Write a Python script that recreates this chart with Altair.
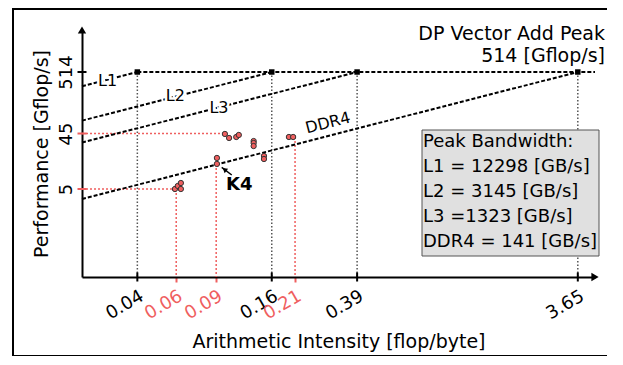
import altair as alt
import pandas as pd

# ---------------- data ----------------
bw_names = ["L1", "L2", "L3", "DDR4"]
bw_values = [12298, 3145, 1323, 141]      # GB/s
peak_gflops = 514

x_min, x_max = 0.02384, 4.34
y_min, y_max = 0.1533, 2713

measured_ai = [0.0612, 0.063, 0.065, 0.065, 0.0937, 0.0937, 0.1016, 0.106, 0.114, 0.117,
               0.136, 0.136, 0.136, 0.151, 0.151, 0.1945, 0.203]
measured_perf = [5.0, 5.64, 6.34, 5.0, 17.1, 13.5, 44.2, 37.7, 39.2, 42.5,
                 33.4, 30.9, 27.4, 18.5, 16.4, 39.2, 39.2]

red_x_ticks = [0.062, 0.093, 0.207]
y_ticks = [514, 45, 5]

# red guide lines: (x start, x end, y start, y end)
guide_x1 = [x_min, x_min, 0.062, 0.093, 0.207]
guide_x2 = [0.0995, 0.062, 0.062, 0.093, 0.207]
guide_y1 = [45, 5, 5, 13.5, 39.2]
guide_y2 = [45, 5, y_min, y_min, y_min]

label_ai = [0.0309, 0.0615, 0.0957, 0.289]
label_perf = [367, 195, 123.6, 68.2]
label_angle = [0, 0, 0, 345.6]

k4_text_ai, k4_text_perf = 0.1028, 5.97
k4_arrow_ai = [0.1089, 0.0984]
k4_arrow_perf = [8.71, 11.8]
k4_head_ai, k4_head_perf = 0.1012, 10.8

box_lines = ["Peak Bandwidth:", "L1 = 12298 [GB/s]", "L2 = 3145 [GB/s]",
             "L3 =1323 [GB/s]", "DDR4 = 141 [GB/s]"]
title_lines = ["DP Vector Add Peak", "514 [Gflop/s]"]

# ---------------- styles ----------------
RED = "#ef5f5f"
FONT = "DejaVu Sans"

knees = [peak_gflops / b for b in bw_values]
x_tick_values = sorted(knees + red_x_ticks)

xscale = alt.Scale(type="log", domain=[x_min, x_max], nice=False)
yscale = alt.Scale(type="log", domain=[y_min, y_max], nice=False)

red_test = "indexof(['0.06','0.09','0.21'], format(datum.value, '.2f')) >= 0"
xaxis = alt.Axis(values=x_tick_values, format=".2f", labelAngle=330, labelAlign="right",
                 labelBaseline="top", labelFontSize=18, labelFont=FONT, labelPadding=5,
                 labelOverlap=False,
                 labelColor={"expr": f"{red_test} ? '{RED}' : 'black'"},
                 tickColor={"expr": f"{red_test} ? '{RED}' : 'rgba(0,0,0,0)'"},
                 tickSize=5, tickWidth=2, domainColor="black", domainWidth=2, grid=False,
                 title="Arithmetic Intensity [flop/byte]", titleFont=FONT, titleFontSize=19,
                 titleFontWeight="normal", titleColor="black", titlePadding=10)
yaxis = alt.Axis(values=y_ticks, format="d", labelAngle=270, labelAlign="center",
                 labelBaseline="bottom", labelFontSize=18, labelFont=FONT, labelPadding=7,
                 labelColor="black", ticks=False, labelOverlap=False,
                 domainColor="black", domainWidth=2, grid=False,
                 title="Performance [Gflop/s]", titleFont=FONT, titleFontSize=19,
                 titleFontWeight="normal", titleColor="black", titlePadding=6)


def X(f):
    return alt.X(f, type="quantitative", scale=xscale, axis=xaxis)


def Y(f):
    return alt.Y(f, type="quantitative", scale=yscale, axis=yaxis)


# ---------------- tables ----------------
roof_rows = []
for n, b in zip(bw_names, bw_values):
    roof_rows.append({"name": n, "ai": x_min, "perf": b * x_min, "o": 0})
    roof_rows.append({"name": n, "ai": peak_gflops / b, "perf": peak_gflops, "o": 1})
roof_rows.append({"name": "peak", "ai": knees[0], "perf": peak_gflops, "o": 0})
roof_rows.append({"name": "peak", "ai": x_max, "perf": peak_gflops, "o": 1})
roof_df = pd.DataFrame(roof_rows)

knee_df = pd.DataFrame({"ai": knees, "perf": [peak_gflops] * 4, "perf2": [y_min] * 4})
xtick_df = pd.DataFrame({"ai": knees, "perf": [y_min] * 4})
ytick_df = pd.DataFrame({"ai": [x_min] * 3, "perf": y_ticks,
                         "c": ["black", RED, RED]})
guide_df = pd.DataFrame({"ai": guide_x1, "ai2": guide_x2, "perf": guide_y1, "perf2": guide_y2})
pts_df = pd.DataFrame({"ai": measured_ai, "perf": measured_perf})
lab_df = pd.DataFrame({"ai": label_ai, "perf": label_perf, "t": bw_names, "ang": label_angle})
k4_df = pd.DataFrame({"ai": [k4_text_ai], "perf": [k4_text_perf], "t": ["K4"]})
arrow_df = pd.DataFrame({"ai": [k4_arrow_ai[0]], "ai2": [k4_arrow_ai[1]],
                         "perf": [k4_arrow_perf[0]], "perf2": [k4_arrow_perf[1]]})
head_df = pd.DataFrame({"ai": [k4_head_ai], "perf": [k4_head_perf]})
axis_arrow_df = pd.DataFrame({"ai": [x_min, x_max], "perf": [y_max, y_min],
                              "shape": ["triangle-up", "triangle-right"]})
one = pd.DataFrame({"a": [0]})

# ---------------- layers ----------------
grey = alt.Chart(knee_df).mark_rule(color="#555555", strokeDash=[1.5, 2], strokeWidth=1.5).encode(
    x=X("ai"), y=Y("perf"), y2="perf2")

guides = alt.Chart(guide_df).mark_rule(color=RED, strokeDash=[2, 2], strokeWidth=1.5).encode(
    x=X("ai"), x2="ai2", y=Y("perf"), y2="perf2")

roofs = alt.Chart(roof_df).mark_line(color="black", strokeDash=[4, 2], strokeWidth=2).encode(
    x=X("ai"), y=Y("perf"), detail="name:N", order="o:Q")

knee_pts = alt.Chart(knee_df).mark_square(size=30, color="black", opacity=1).encode(
    x=X("ai"), y=Y("perf"))

xticks = alt.Chart(xtick_df).mark_tick(orient="vertical", size=9, thickness=2, color="black",
                                       opacity=1).encode(x=X("ai"), y=Y("perf"))
yticks = alt.Chart(ytick_df).mark_tick(orient="horizontal", size=9, thickness=2,
                                       opacity=1).encode(
    x=X("ai"), y=Y("perf"), color=alt.Color("c:N", scale=None))

box = alt.Chart(one).mark_rect(fill="#e0e0e0", stroke="#555555", strokeWidth=1).encode(
    x=alt.value(340), x2=alt.value(517), y=alt.value(100), y2=alt.value(226))

box_text = alt.Chart(one).mark_text(align="left", baseline="alphabetic", font=FONT, fontSize=18,
                                    lineBreak="\n", lineHeight=25, color="black").encode(
    x=alt.value(341), y=alt.value(117), text=alt.value("\n".join(box_lines)))

title_text = alt.Chart(one).mark_text(align="right", baseline="alphabetic", font=FONT, fontSize=19,
                                      lineBreak="\n", lineHeight=22, color="black").encode(
    x=alt.value(523), y=alt.value(10), text=alt.value("\n".join(title_lines)))

points = alt.Chart(pts_df).mark_circle(size=28, color=RED, stroke="#333333", strokeWidth=1,
                                       opacity=1).encode(x=X("ai"), y=Y("perf"))

halo = alt.Chart(lab_df).mark_text(font=FONT, fontSize=16, stroke="white", strokeWidth=5,
                                   fill="white").encode(
    x=X("ai"), y=Y("perf"), text="t:N", angle=alt.Angle("ang:Q", scale=None))
labels = alt.Chart(lab_df).mark_text(font=FONT, fontSize=16, color="black").encode(
    x=X("ai"), y=Y("perf"), text="t:N", angle=alt.Angle("ang:Q", scale=None))

k4 = alt.Chart(k4_df).mark_text(font=FONT, fontSize=18, fontWeight="bold", align="left",
                                baseline="middle", color="black").encode(
    x=X("ai"), y=Y("perf"), text="t:N")
arrow = alt.Chart(arrow_df).mark_rule(color="black", strokeWidth=1.5).encode(
    x=X("ai"), x2="ai2", y=Y("perf"), y2="perf2")
head = alt.Chart(head_df).mark_point(shape="triangle-up", size=30, filled=True, color="black",
                                     angle=308, opacity=1).encode(x=X("ai"), y=Y("perf"))

axis_arrows = alt.Chart(axis_arrow_df).mark_point(size=70, filled=True, color="black",
                                                  opacity=1).encode(
    x=X("ai"), y=Y("perf"), shape=alt.Shape("shape:N", scale=None))

frame = alt.Chart(one).mark_rect(fill=None, stroke="black", strokeWidth=2).encode(
    x=alt.value(-69), x2=alt.value(534), y=alt.value(-21), y2=alt.value(326))

chart = alt.layer(
    grey, guides, roofs, knee_pts, xticks, yticks, box, box_text, title_text, points,
    halo, labels, k4, arrow, head, axis_arrows, frame
).properties(
    width=513, height=247,
    autosize=alt.AutoSizeParams(type="none"),
    padding={"left": 74, "top": 22, "right": 12, "bottom": 79},
    background="white",
).configure_view(stroke=None)

chart.save("out.html", embed_options={"renderer": "svg", "actions": False})
